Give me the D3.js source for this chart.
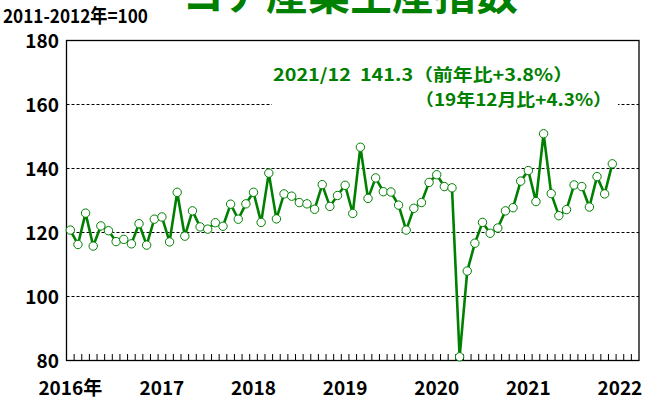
<!DOCTYPE html>
<html><head><meta charset="utf-8">
<script src="https://cdn.jsdelivr.net/npm/d3@7"></script>
<style>
body{margin:0;background:#fff;}
svg{display:block;}
</style></head>
<body>
<svg id="chart" width="646" height="403"></svg>
<script>
const months = [];
for (let y = 2016; y <= 2022; y++) for (let m = 1; m <= 12; m++) {
  if (y === 2022 && m > 3) break;
  months.push(y + "/" + String(m).padStart(2, "0"));
}
const values = [
  120.6,116.1,125.9,115.6,121.9,120.4,117.0,117.7,116.3,122.6,115.9,124.0,
  124.7,116.9,132.4,118.7,126.6,121.6,120.9,122.9,121.8,128.7,124.0,128.8,
  132.4,123.0,138.4,124.1,131.9,131.2,129.2,128.8,127.1,134.8,128.0,131.4,
  134.6,125.8,146.5,130.5,136.9,132.6,132.5,128.4,120.6,127.4,129.2,135.5,
  137.9,134.2,133.8,81.0,107.8,116.5,123.0,119.6,121.25,126.6,127.6,135.9,
  139.2,129.5,150.7,132.0,125.1,127.0,134.7,134.2,127.8,137.3,131.9,141.3
];
const yTicks = [80,100,120,140,160,180];
const gridTicks = [100,120,140,160];
const yearLabels = [
  {m:"2016/01", t:"2016年"},{m:"2017/01", t:"2017"},{m:"2018/01", t:"2018"},
  {m:"2019/01", t:"2019"},{m:"2020/01", t:"2020"},{m:"2021/01", t:"2021"},{m:"2022/01", t:"2022"}
];
const title = "コア産業生産指数";
const unitLabel = "2011-2012年=100";
const note1 = "2021/12  141.3（前年比+3.8%）";
const note2 = "（19年12月比+4.3%）";

const data = values.map((v,i)=>({m:months[i], v}));
const svg = d3.select("#chart");
const L = 66.5, R = 639, T = 40, B = 360;
const x = d3.scaleBand().domain(months).range([L, R]).padding(0);
const y = d3.scaleLinear().domain([80,180]).range([B, T]);
const cx = d => x(d.m) + x.bandwidth()/2;
const green = "#008000";
const font = "'Noto Sans CJK JP', 'Noto Sans', sans-serif";

// grid
svg.append("g").selectAll("line").data(gridTicks).join("line")
  .attr("x1", L).attr("x2", R).attr("y1", d=>Math.round(y(d))+0.5).attr("y2", d=>Math.round(y(d))+0.5)
  .attr("stroke", "#000").attr("stroke-width", 1).attr("stroke-dasharray", "3,2");

// annotation (white box covering grid)
const ann = svg.append("g");
ann.append("rect").attr("x", 272).attr("y", 60).attr("width", 346).attr("height", 52).attr("fill", "#fff");
ann.append("text").attr("x", 273).attr("y", 81).text(note1)
  .style("white-space", "pre")
  .attr("font-family", font).attr("font-weight", "bold").attr("font-size", 17).attr("fill", green)
  .attr("textLength", 300).attr("lengthAdjust", "spacingAndGlyphs");
ann.append("text").attr("x", 415).attr("y", 106).text(note2)
  .attr("font-family", font).attr("font-weight", "bold").attr("font-size", 17).attr("fill", green)
  .attr("textLength", 197).attr("lengthAdjust", "spacingAndGlyphs");

// frame
svg.append("rect").attr("x", L).attr("y", T+0.5).attr("width", R-L).attr("height", B-T)
  .attr("fill", "none").attr("stroke", "#000").attr("stroke-width", 1.3);

// bottom ticks (inward) using axis
const xAxis = d3.axisBottom(x).tickSize(-6).tickFormat("");
const gx = svg.append("g").attr("transform", `translate(${-x.bandwidth()/2},${B})`).call(xAxis);
gx.select(".domain").remove();
gx.selectAll("line").attr("stroke", "#000").attr("stroke-width", 1);
gx.selectAll("text").remove();

// y labels via axis
const yAxis = d3.axisLeft(y).tickValues(yTicks).tickSize(0).tickPadding(0);
const gy = svg.append("g").attr("transform", `translate(59,0)`).call(yAxis);
gy.select(".domain").remove();
gy.selectAll("text").attr("font-family", font).attr("font-weight", "bold")
  .attr("font-size", 19).attr("fill", "#000").attr("dy", "0.38em");

// year labels
svg.append("g").selectAll("text").data(yearLabels).join("text")
  .attr("x", d=> x(d.m) + x.bandwidth()/2).attr("y", 395)
  .attr("text-anchor", "middle").text(d=>d.t)
  .attr("font-family", font).attr("font-weight", "bold").attr("font-size", 19).attr("fill", "#000");

// line
svg.append("path").datum(data)
  .attr("d", d3.line().x(cx).y(d=>y(d.v)))
  .attr("fill", "none").attr("stroke", green).attr("stroke-width", 2.6).attr("stroke-linejoin", "round");

svg.append("g").selectAll("circle").data(data).join("circle")
  .attr("cx", cx).attr("cy", d=>y(d.v)).attr("r", 4.2)
  .attr("fill", "#fff").attr("stroke", green).attr("stroke-width", 1);

// title & unit
svg.append("text").attr("x", 182).attr("y", 10).text(title)
  .attr("font-family", font).attr("font-weight", "bold").attr("font-size", 42).attr("fill", green);
svg.append("text").attr("x", 3).attr("y", 23).text(unitLabel)
  .attr("font-family", font).attr("font-weight", "bold").attr("font-size", 19).attr("fill", "#000")
  .attr("textLength", 145).attr("lengthAdjust", "spacingAndGlyphs");
</script>
</body></html>
